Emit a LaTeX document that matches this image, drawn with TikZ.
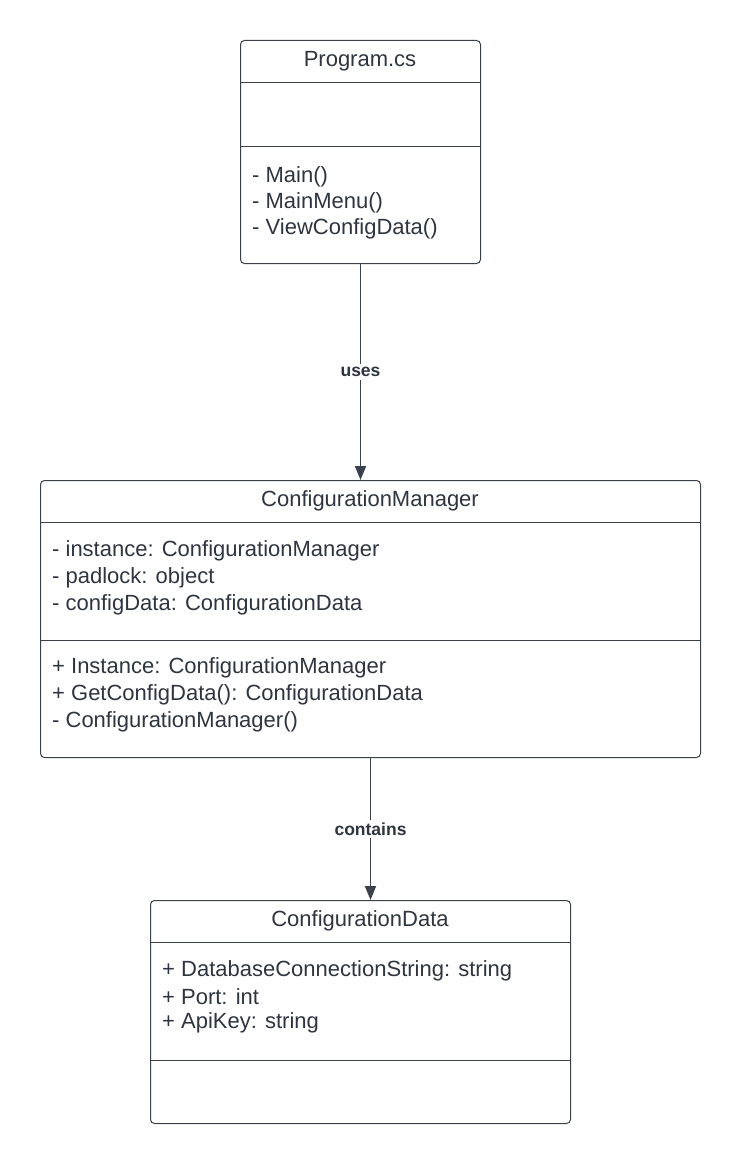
\documentclass[tikz,border=0pt]{standalone}
\usepackage{fontspec}
\setmainfont{Liberation Sans}
\usetikzlibrary{positioning}
\usetikzlibrary{calc}
\usetikzlibrary{arrows.meta}
\usepackage{xcolor}
\definecolor{linegray}{HTML}{3A414A}
\definecolor{textgray}{HTML}{2F3540}

\begin{document}
\begin{tikzpicture}[x=1pt, y=-1pt,
        classbox/.style={draw=linegray, line width=1pt, rounded corners=4pt, inner sep=0pt, anchor=north west},
        title/.style={font=\fontsize{22}{26}\selectfont, text=textgray, inner sep=0pt},
        member/.style={anchor=west, font=\fontsize{22}{26}\selectfont, text=textgray, inner sep=0pt},
        sep/.style={draw=linegray, line width=1pt},
        link/.style={draw=linegray, line width=1.8pt, -{Triangle[length=14pt, width=11pt]}},
        linklabel/.style={fill=white, font=\bfseries\fontsize{17.5}{21}\selectfont, text=textgray, inner sep=3pt}]
        \useasboundingbox (0,0) rectangle (740,1164);

        % Program.cs
        \node[classbox, minimum width=240pt, minimum height=223pt] (prog) at (240,40) {};
        \node[title] (progtitle) at (360,61) {Program.cs};
        \draw[sep] (240,82) -- (480,82);
        \draw[sep] (240,146) -- (480,146);
        \foreach \t [count=\i] in {- Main(), - MainMenu(), - ViewConfigData()}
            \node[member] (progm\i) at (252,151+26*\i) {\t};

        % ConfigurationManager
        \node[classbox, minimum width=660pt, minimum height=277pt] (mgr) at (40,480) {};
        \node[title] (mgrtitle) at (370,501) {ConfigurationManager};
        \draw[sep] (40,522) -- (700,522);
        \draw[sep] (40,640) -- (700,640);
        \foreach \t [count=\i] in {- instance: ConfigurationManager, - padlock: object, - configData: ConfigurationData}
            \node[member] (mgra\i) at (52,524+27*\i) {\t};
        \foreach \t [count=\i] in {+ Instance: ConfigurationManager, + GetConfigData(): ConfigurationData, - ConfigurationManager()}
            \node[member] (mgrm\i) at (52,641+27*\i) {\t};

        % ConfigurationData
        \node[classbox, minimum width=420pt, minimum height=223pt] (data) at (150,900) {};
        \node[title] (datatitle) at (360,921) {ConfigurationData};
        \draw[sep] (150,942) -- (570,942);
        \draw[sep] (150,1060) -- (570,1060);
        \foreach \t [count=\i] in {+ DatabaseConnectionString: string, + Port: int, + ApiKey: string}
            \node[member] (dataa\i) at (162,945+26*\i) {\t};

        % connectors
        \draw[link] (prog.south) -- node[linklabel] {uses} (prog.south |- mgr.north);
        \draw[link] (mgr.south) -- node[linklabel] {contains} (mgr.south |- data.north);
\end{tikzpicture}
\end{document}
